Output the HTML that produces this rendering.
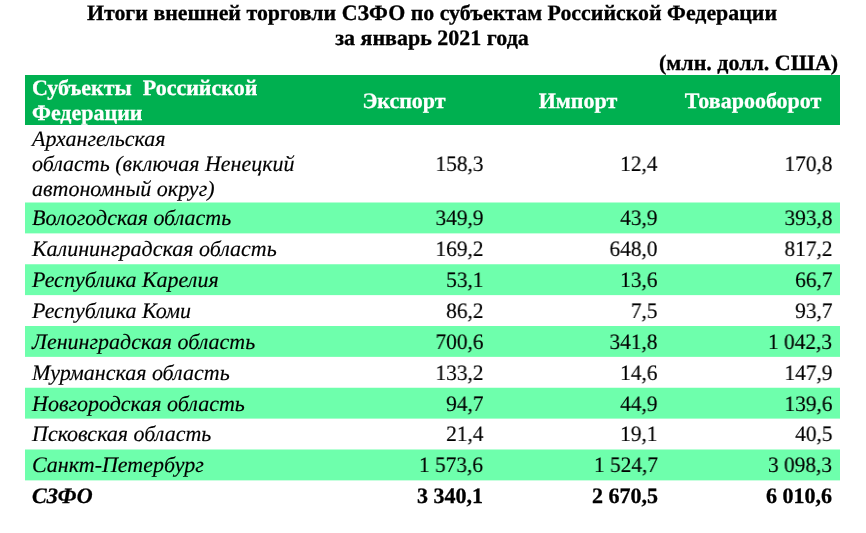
<!DOCTYPE html>
<html><head><meta charset="utf-8"><style>
html,body{margin:0;padding:0;background:#fff;width:866px;height:533px;overflow:hidden;position:relative}
.t{position:absolute;white-space:pre;font-family:"Liberation Serif",serif;font-size:22px;line-height:25px;color:#000;will-change:transform;text-rendering:geometricPrecision;-webkit-text-stroke:0.15px currentColor}
.b{font-weight:bold;-webkit-text-stroke:0.3px currentColor}
.i{font-style:italic}
.bi{font-weight:bold;font-style:italic;-webkit-text-stroke:0.3px currentColor}
.w{color:#fff}
.n{transform:scaleX(0.97);transform-origin:100% 50%}
.tt{font-size:21.9px}
.bg{position:absolute}
.hd{background:rgb(0,176,80)}
.lg{background:rgb(110,255,172)}
</style></head><body>
<div class="t b tt" style="left:-0.6000000000000227px;width:866px;text-align:center;top:0.00px">Итоги внешней торговли СЗФО по субъектам Российской Федерации</div>
<div class="t b" style="left:-0.8000000000000114px;width:866px;text-align:center;top:25.00px">за январь 2021 года</div>
<div class="t b" style="right:28px;top:50.00px">(млн. долл. США)</div>
<div class="bg hd" style="left:25px;top:75px;width:815px;height:50px"></div>
<div class="t b w" style="left:32px;top:75.00px">Субъекты&nbsp; Российской</div>
<div class="t b w" style="left:32px;top:100.00px">Федерации</div>
<div class="t b w" style="left:-29.25px;width:866px;text-align:center;top:88.00px">Экспорт</div>
<div class="t b w" style="left:145.25px;width:866px;text-align:center;top:88.00px">Импорт</div>
<div class="t b w" style="left:319.75px;width:866px;text-align:center;top:88.00px">Товарооборот</div>
<div class="t i" style="left:31.6px;top:126.00px">Архангельская</div>
<div class="t i" style="left:31.6px;top:151.00px">область (включая Ненецкий</div>
<div class="t i" style="left:31.6px;top:175.60px">автономный округ)</div>
<div class="t n" style="right:383px;top:151.30px">158,3</div>
<div class="t n" style="right:208.5px;top:151.30px">12,4</div>
<div class="t n" style="right:33.799999999999955px;top:151.30px">170,8</div>
<div class="bg lg" style="left:25px;top:203px;width:815px;height:30px"></div>
<div class="bg" style="left:25px;top:202px;width:815px;height:1px;background:rgba(110,255,172,0.50)"></div>
<div class="bg" style="left:25px;top:233px;width:815px;height:1px;background:rgba(110,255,172,0.38)"></div>
<div class="t i" style="left:31.6px;top:205.30px">Вологодская область</div>
<div class="t n" style="right:383px;top:205.30px">349,9</div>
<div class="t n" style="right:208.5px;top:205.30px">43,9</div>
<div class="t n" style="right:33.799999999999955px;top:205.30px">393,8</div>
<div class="t i" style="left:31.6px;top:236.18px">Калининградская область</div>
<div class="t n" style="right:383px;top:236.18px">169,2</div>
<div class="t n" style="right:208.5px;top:236.18px">648,0</div>
<div class="t n" style="right:33.799999999999955px;top:236.18px">817,2</div>
<div class="bg lg" style="left:25px;top:265px;width:815px;height:30px"></div>
<div class="bg" style="left:25px;top:264px;width:815px;height:1px;background:rgba(110,255,172,0.75)"></div>
<div class="bg" style="left:25px;top:295px;width:815px;height:1px;background:rgba(110,255,172,0.12)"></div>
<div class="t i" style="left:31.6px;top:267.05px">Республика Карелия</div>
<div class="t n" style="right:383px;top:267.05px">53,1</div>
<div class="t n" style="right:208.5px;top:267.05px">13,6</div>
<div class="t n" style="right:33.799999999999955px;top:267.05px">66,7</div>
<div class="t i" style="left:31.6px;top:297.93px">Республика Коми</div>
<div class="t n" style="right:383px;top:297.93px">86,2</div>
<div class="t n" style="right:208.5px;top:297.93px">7,5</div>
<div class="t n" style="right:33.799999999999955px;top:297.93px">93,7</div>
<div class="bg lg" style="left:25px;top:326px;width:815px;height:30px"></div>
<div class="bg" style="left:25px;top:356px;width:815px;height:1px;background:rgba(110,255,172,0.88)"></div>
<div class="t i" style="left:31.6px;top:328.80px">Ленинградская область</div>
<div class="t n" style="right:383px;top:328.80px">700,6</div>
<div class="t n" style="right:208.5px;top:328.80px">341,8</div>
<div class="t n" style="right:33.799999999999955px;top:328.80px">1 042,3</div>
<div class="t i" style="left:31.6px;top:359.68px">Мурманская область</div>
<div class="t n" style="right:383px;top:359.68px">133,2</div>
<div class="t n" style="right:208.5px;top:359.68px">14,6</div>
<div class="t n" style="right:33.799999999999955px;top:359.68px">147,9</div>
<div class="bg lg" style="left:25px;top:388px;width:815px;height:30px"></div>
<div class="bg" style="left:25px;top:387px;width:815px;height:1px;background:rgba(110,255,172,0.25)"></div>
<div class="bg" style="left:25px;top:418px;width:815px;height:1px;background:rgba(110,255,172,0.62)"></div>
<div class="t i" style="left:31.6px;top:390.55px">Новгородская область</div>
<div class="t n" style="right:383px;top:390.55px">94,7</div>
<div class="t n" style="right:208.5px;top:390.55px">44,9</div>
<div class="t n" style="right:33.799999999999955px;top:390.55px">139,6</div>
<div class="t i" style="left:31.6px;top:421.43px">Псковская область</div>
<div class="t n" style="right:383px;top:421.43px">21,4</div>
<div class="t n" style="right:208.5px;top:421.43px">19,1</div>
<div class="t n" style="right:33.799999999999955px;top:421.43px">40,5</div>
<div class="bg lg" style="left:25px;top:450px;width:815px;height:30px"></div>
<div class="bg" style="left:25px;top:449px;width:815px;height:1px;background:rgba(110,255,172,0.50)"></div>
<div class="bg" style="left:25px;top:480px;width:815px;height:1px;background:rgba(110,255,172,0.38)"></div>
<div class="t i" style="left:31.6px;top:452.30px">Санкт-Петербург</div>
<div class="t n" style="right:383px;top:452.30px">1 573,6</div>
<div class="t n" style="right:208.5px;top:452.30px">1 524,7</div>
<div class="t n" style="right:33.799999999999955px;top:452.30px">3 098,3</div>
<div class="t bi" style="left:31.6px;top:483.18px">СЗФО</div>
<div class="t b" style="right:383px;top:483.18px">3 340,1</div>
<div class="t b" style="right:208.5px;top:483.18px">2 670,5</div>
<div class="t b" style="right:33.799999999999955px;top:483.18px">6 010,6</div>
</body></html>
